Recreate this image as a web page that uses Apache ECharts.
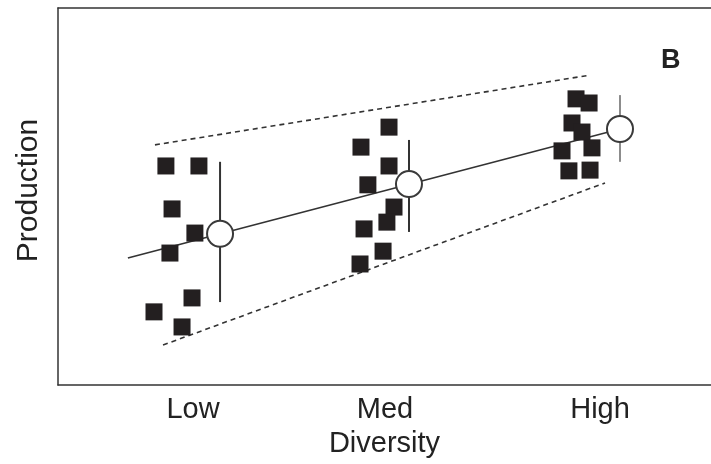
<!DOCTYPE html>
<html>
<head>
<meta charset="utf-8">
<script src="https://cdn.jsdelivr.net/npm/echarts@6/dist/echarts.min.js"></script>
<style>html,body{margin:0;padding:0;background:#fff}#c{width:711px;height:464px}</style>
</head>
<body>
<div id="c"></div>
<script>
// Diversity levels and label positions on the (numeric) diversity axis
var levels = ['Low', 'Med', 'High'];
var levelX = [1, 2, 3.12];

// Individual plot observations [diversity position (jittered), production]
var lowPlots = [[0.859,5.81],[1.031,5.81],[0.891,4.67],[1.010,4.03],[0.880,3.50],[0.995,2.31],[0.797,1.94],[0.943,1.54]];
var medPlots = [[2.021,6.84],[1.875,6.31],[2.021,5.81],[1.911,5.31],[2.047,4.72],[2.010,4.32],[1.891,4.14],[1.990,3.55],[1.870,3.21]];
var highPlots = [[2.995,7.59],[3.063,7.48],[2.974,6.95],[3.026,6.71],[2.922,6.21],[3.078,6.29],[2.958,5.68],[3.068,5.70]];

// Means with error bar extents
var meanX = [1.141, 2.125, 3.224];
var meanY = [4.01, 5.33, 6.79];
var errLow = [2.20, 4.06, 5.92];
var errHigh = [5.92, 6.50, 7.69];

// Fitted line and envelope lines
var fitLine = [[0.661,3.37],[3.224,6.79]];
var upperEnvelope = [[0.802,6.37],[3.068,8.22]];
var lowerEnvelope = [[0.844,1.06],[3.146,5.36]];

var font = 'Liberation Sans, Arial, Helvetica, sans-serif';

var series = [];
// error bars
for (var i = 0; i < meanX.length; i++) {
  series.push({
    type: 'line', silent: true, symbol: 'none', z: 2,
    data: [[meanX[i], errLow[i]], [meanX[i], errHigh[i]]],
    lineStyle: {color: i === 2 ? '#8c8c8c' : '#333', width: 2}
  });
}
series.push({type:'line', symbol:'none', z:2, data: fitLine, lineStyle:{color:'#333', width:1.6}});
series.push({type:'line', symbol:'none', z:2, data: upperEnvelope, lineStyle:{color:'#333', width:1.6, type:[5,4]}});
series.push({type:'line', symbol:'none', z:2, data: lowerEnvelope, lineStyle:{color:'#333', width:1.6, type:[5,4]}});
[lowPlots, medPlots, highPlots].forEach(function (d) {
  series.push({type:'scatter', symbol:'rect', symbolSize:17, z:4, data:d, itemStyle:{color:'#231f20', opacity:1}});
});
series.push({
  type:'scatter', symbol:'circle', symbolSize:26, z:5,
  data: meanX.map(function (x, i) { return [x, meanY[i]]; }),
  itemStyle:{color:'#fff', borderColor:'#3a3a3a', borderWidth:2, opacity:1}
});

var chart = echarts.init(document.getElementById('c'));
chart.setOption({
  animation: false,
  backgroundColor: '#fff',
  title: {text:'B', left: 656, top: 42, textStyle:{fontFamily:font, fontSize:27, fontWeight:'bold', color:'#222'}},
  grid: {left: 58, right: 0, top: 8, bottom: 79},
  xAxis: [{
    type: 'value', min: 0.297, max: 3.698,
    name: 'Diversity', nameLocation: 'middle', nameGap: 44,
    nameTextStyle: {fontFamily: font, fontSize: 29, color: '#222'},
    axisLine: {show: true, lineStyle: {color: '#333', width: 1.5}},
    axisTick: {show: false},
    splitLine: {show: false},
    axisLabel: {
      customValues: levelX, margin: 10,
      fontFamily: font, fontSize: 29, color: '#222',
      formatter: function (v) {
        for (var i = 0; i < levelX.length; i++) if (Math.abs(levelX[i] - v) < 1e-6) return levels[i];
        return '';
      }
    }
  }, {
    type: 'value', position: 'top', min: 0.297, max: 3.698,
    axisLine: {show: true, lineStyle: {color: '#333', width: 1.5}},
    axisTick: {show: false}, axisLabel: {show: false}, splitLine: {show: false}
  }],
  yAxis: {
    type: 'value', min: 0, max: 10,
    name: 'Production', nameLocation: 'middle', nameGap: 14, nameRotate: 90,
    nameTextStyle: {fontFamily: font, fontSize: 30, color: '#222', padding: [0, 0, 0, 12]},
    axisLine: {show: true, lineStyle: {color: '#333', width: 1.5}},
    axisTick: {show: false}, axisLabel: {show: false}, splitLine: {show: false}
  },
  series: series
});
</script>
</body>
</html>
